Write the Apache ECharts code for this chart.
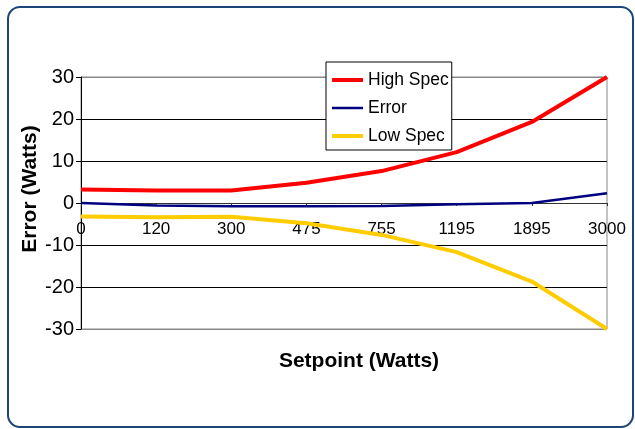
<!DOCTYPE html>
<html>
<head>
<meta charset="utf-8">
<script src="https://cdn.jsdelivr.net/npm/echarts@6/dist/echarts.min.js"></script>
<style>html,body{margin:0;padding:0;background:#fff}#c{width:635px;height:429px}</style>
</head>
<body>
<div id="c"></div>
<script>
var categories = ['0', '120', '300', '475', '755', '1195', '1895', '3000'];
var highSpec = [3.2, 3.0, 3.0, 4.8, 7.6, 12.1, 19.3, 30];
var errorVals = [0.0, -0.6, -0.8, -0.8, -0.7, -0.3, 0.0, 2.3];
var lowSpec = [-3.2, -3.4, -3.3, -4.8, -7.6, -11.7, -18.7, -30];
var yTicks = { min: -30, max: 30, interval: 10 };

var chart = echarts.init(document.getElementById('c'), null, { renderer: 'canvas' });
var font = 'Liberation Sans, Arial, sans-serif';
var thick = 'path://M0,0 H31 V4 H0 Z';
var thin = 'path://M0,0 H31 V2.5 H0 Z';
chart.setOption({
  animation: false,
  backgroundColor: '#fff',
  grid: { left: 81, right: 28, top: 77, bottom: 100, show: true, borderColor: '#888', borderWidth: 1 },
  graphic: [
    { type: 'rect', shape: { x: 8, y: 7, width: 625, height: 420, r: 12 }, style: { fill: 'none', stroke: '#1b4677', lineWidth: 2 }, z: 100 },
    { type: 'text', x: 359, y: 361, style: { text: 'Setpoint (Watts)', font: 'bold 21px ' + font, fill: '#000', textAlign: 'center', textVerticalAlign: 'middle' } },
    { type: 'text', x: 30, y: 189, rotation: Math.PI / 2, style: { text: 'Error (Watts)', font: 'bold 21px ' + font, fill: '#000', textAlign: 'center', textVerticalAlign: 'middle' } }
  ],
  legend: {
    orient: 'vertical', left: 326, top: 62,
    backgroundColor: '#fff', borderColor: '#000', borderWidth: 1,
    padding: [9, 3, 5, 6], itemWidth: 31, itemHeight: 14, itemGap: 10,
    symbolKeepAspect: true,
    textStyle: { fontFamily: font, fontSize: 17.5, color: '#000' },
    data: [
      { name: 'High Spec', icon: thick },
      { name: 'Error', icon: thin },
      { name: 'Low Spec', icon: thick }
    ]
  },
  xAxis: {
    type: 'category', data: categories, boundaryGap: false, position: 'bottom', offset: -126,
    axisLine: { onZero: false, lineStyle: { color: '#333', width: 1 } },
    axisTick: { show: true, length: 3, lineStyle: { color: '#333' } },
    axisLabel: { fontFamily: font, fontSize: 17, color: '#000', margin: 18 }
  },
  yAxis: {
    type: 'value', min: yTicks.min, max: yTicks.max, interval: yTicks.interval,
    axisLine: { show: true, lineStyle: { color: '#000' } },
    axisTick: { show: true, length: 5, lineStyle: { color: '#000' } },
    axisLabel: { fontFamily: font, fontSize: 20, color: '#000', margin: 7 },
    splitLine: { lineStyle: { color: ['#888', '#000', '#000', '#000', '#000', '#000', '#888'], width: 1 } }
  },
  series: [
    { name: 'High Spec', type: 'line', data: highSpec, symbol: 'none', lineStyle: { color: '#ff0000', width: 4 }, itemStyle: { color: '#ff0000' }, z: 5 },
    { name: 'Error', type: 'line', data: errorVals, symbol: 'none', lineStyle: { color: '#000080', width: 2.5 }, itemStyle: { color: '#000080' }, z: 5 },
    { name: 'Low Spec', type: 'line', data: lowSpec, symbol: 'none', lineStyle: { color: '#ffcc00', width: 4 }, itemStyle: { color: '#ffcc00' }, z: 5 }
  ]
});
</script>
</body>
</html>
